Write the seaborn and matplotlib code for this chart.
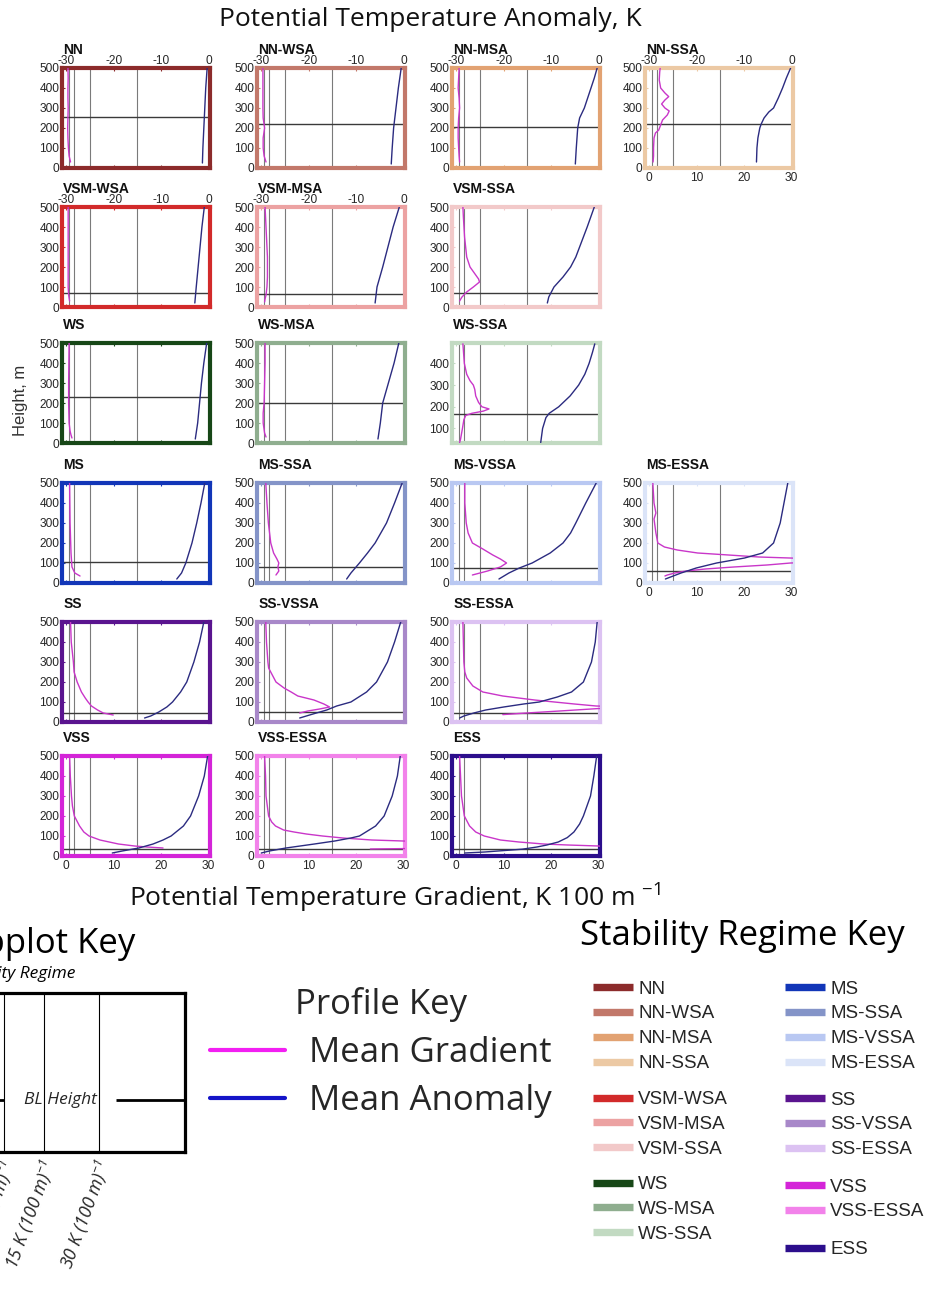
import matplotlib
matplotlib.use("Agg")
import matplotlib.pyplot as plt
from matplotlib.lines import Line2D
import seaborn as sns

# ---------------------------------------------------------------- regimes
REGIMES = ["NN", "NN-WSA", "NN-MSA", "NN-SSA",
           "VSM-WSA", "VSM-MSA", "VSM-SSA",
           "WS", "WS-MSA", "WS-SSA",
           "MS", "MS-SSA", "MS-VSSA", "MS-ESSA",
           "SS", "SS-VSSA", "SS-ESSA",
           "VSS", "VSS-ESSA", "ESS"]
REGIME_COLORS = ["#8c2b2b", "#c2786a", "#e2a272", "#ecc9a4",
                 "#d22a2a", "#eca2a2", "#f2c9c9",
                 "#174717", "#8fae8f", "#c2dac2",
                 "#1236b8", "#8494c8", "#b9c8f2", "#dbe4f8",
                 "#5a148f", "#a888c9", "#dcc2f2",
                 "#d424d8", "#f282ea", "#2c0e8c"]
PANEL_ROW = [0, 0, 0, 0, 1, 1, 1, 2, 2, 2, 3, 3, 3, 3, 4, 4, 4, 5, 5, 5]
PANEL_COL = [0, 1, 2, 3, 0, 1, 2, 0, 1, 2, 0, 1, 2, 3, 0, 1, 2, 0, 1, 2]
BL_HEIGHT = [255, 220, 205, 222, 70, 63, 70, 230, 198, 167,
             107, 80, 75, 58, 45, 50, 44, 37, 34, 34]
TOP_LABELED = ["NN", "NN-WSA", "NN-MSA", "NN-SSA", "VSM-WSA", "VSM-MSA"]
BOTTOM_LABELED = ["NN-SSA", "MS-ESSA", "VSS", "VSS-ESSA", "ESS"]

# reference gradient thresholds, K (100 m)^-1
GRAD_REF = [0.5, 1.7, 5.0, 15.0]
GRAD_TICKS = [0, 10, 20, 30]
ANOM_TICKS = [-30, -20, -10, 0]
HEIGHT_TICKS = [0, 100, 200, 300, 400, 500]

# ------------------------------------------- mean profiles (height in m)
NN_GZ = [30, 60, 100, 150, 200, 250, 300, 350, 400, 450, 500]
NN_GRAD = [0.9, 0.6, 0.45, 0.35, 0.3, 0.35, 0.4, 0.35, 0.35, 0.4, 0.35]
NN_AZ = [25, 100, 200, 300, 400, 500]
NN_ANOM = [-1.3, -1.2, -1.0, -0.8, -0.6, -0.3]

NNW_GZ = [30, 60, 100, 150, 200, 250, 300, 400, 500]
NNW_GRAD = [1.0, 0.6, 0.4, 0.4, 0.7, 0.4, 0.35, 0.35, 0.35]
NNW_AZ = [20, 100, 200, 300, 400, 500]
NNW_ANOM = [-2.6, -2.4, -2.1, -1.6, -1.1, -0.5]

NNM_GZ = [30, 60, 100, 150, 200, 250, 300, 350, 400, 450, 500]
NNM_GRAD = [0.7, 0.6, 0.5, 0.4, 0.4, 0.5, 0.7, 0.6, 0.4, 0.5, 0.6]
NNM_AZ = [20, 100, 200, 250, 300, 350, 400, 450, 500]
NNM_ANOM = [-4.9, -4.7, -4.4, -4.0, -3.0, -2.3, -1.6, -0.9, -0.3]

NNS_GZ = [30, 60, 100, 150, 175, 190, 215, 240, 265, 285, 300, 320, 340,
          357, 375, 400, 440, 480, 500]
NNS_GRAD = [0.8, 0.9, 0.9, 1.0, 1.3, 2.0, 2.4, 2.8, 3.8, 4.2, 3.3, 2.6,
            3.3, 4.1, 3.3, 2.4, 2.1, 2.2, 2.3]
NNS_AZ = [30, 100, 150, 200, 220, 250, 280, 300, 350, 400, 450, 500]
NNS_ANOM = [-7.4, -7.3, -7.1, -6.7, -6.4, -5.8, -4.8, -3.8, -2.8, -1.9, -1.1, -0.2]

VW_GZ = [30, 60, 100, 200, 300, 400, 500]
VW_GRAD = [0.7, 0.5, 0.4, 0.4, 0.4, 0.4, 0.4]
VW_AZ = [20, 100, 200, 300, 400, 500]
VW_ANOM = [-2.9, -2.6, -2.2, -1.8, -1.4, -0.9]

VM_GZ = [25, 40, 60, 100, 150, 200, 250, 300, 400, 500]
VM_GRAD = [0.7, 0.8, 1.0, 1.2, 1.3, 1.3, 1.3, 1.2, 1.0, 0.8]
VM_AZ = [20, 100, 200, 300, 400, 500]
VM_ANOM = [-6.0, -5.6, -4.4, -3.3, -2.2, -0.9]

VS_GZ = [30, 50, 75, 100, 125, 140, 170, 200, 250, 350, 450, 500]
VS_GRAD = [0.7, 1.2, 2.2, 3.6, 4.9, 4.7, 3.8, 2.9, 2.2, 1.75, 1.5, 1.4]
VS_AZ = [20, 50, 100, 150, 200, 250, 300, 400, 500]
VS_ANOM = [-10.8, -10.5, -9.4, -7.5, -5.9, -4.8, -4.0, -2.4, -0.9]

WS_GZ = [25, 40, 60, 100, 200, 300, 400, 500]
WS_GRAD = [1.2, 1.0, 0.8, 0.6, 0.5, 0.5, 0.55, 0.6]
WS_AZ = [20, 100, 200, 300, 400, 500]
WS_ANOM = [-2.8, -2.3, -1.9, -1.5, -1.0, -0.4]

WSM_GZ = [30, 50, 100, 150, 200, 300, 400, 500]
WSM_GRAD = [1.0, 0.7, 0.4, 0.4, 0.6, 0.7, 0.8, 0.8]
WSM_AZ = [20, 100, 200, 250, 300, 400, 500]
WSM_ANOM = [-5.4, -4.9, -4.4, -3.8, -3.2, -2.0, -1.0]

WSS_GZ = [35, 50, 100, 140, 160, 170, 180, 190, 200, 220, 250, 280, 300,
          320, 350, 400, 490]
WSS_GRAD = [0.7, 0.9, 1.3, 1.6, 2.0, 3.3, 5.7, 6.9, 5.4, 4.7, 4.1, 3.9,
            3.6, 2.9, 2.2, 1.7, 1.4]
WSS_AZ = [35, 100, 150, 170, 200, 250, 300, 350, 400, 450, 490]
WSS_ANOM = [-12.2, -11.8, -11.1, -10.4, -8.4, -6.0, -4.2, -2.9, -2.0, -1.3, -0.8]

MS_GZ = [35, 50, 80, 150, 300, 500]
MS_GRAD = [2.9, 1.8, 1.2, 1.0, 0.8, 0.7]
MS_AZ = [20, 50, 100, 200, 300, 400, 500]
MS_ANOM = [-6.7, -5.7, -4.8, -3.5, -2.5, -1.6, -0.8]

MSS_GZ = [40, 60, 80, 100, 120, 150, 200, 300, 400, 500]
MSS_GRAD = [3.1, 3.7, 3.5, 3.7, 3.3, 2.6, 2.0, 1.5, 1.2, 0.95]
MSS_AZ = [20, 50, 100, 150, 200, 300, 400, 500]
MSS_ANOM = [-12.0, -11.1, -9.3, -7.6, -6.0, -3.6, -1.9, -0.3]

MSV_GZ = [40, 60, 80, 100, 120, 140, 170, 200, 250, 300, 400, 500]
MSV_GRAD = [3.4, 6.6, 9.3, 10.6, 9.3, 7.7, 5.6, 3.4, 2.5, 2.1, 1.8, 1.8]
MSV_AZ = [20, 50, 75, 100, 150, 200, 250, 300, 400, 500]
MSV_ANOM = [-21.0, -18.9, -16.7, -14.0, -10.2, -7.5, -5.9, -4.8, -2.7, -0.5]

MSE_GZ = [35, 40, 50, 60, 70, 80, 90, 100, 112, 125, 130, 140, 150, 165,
          180, 200, 250, 320, 350, 400, 500]
MSE_GRAD = [3.3, 3.8, 5.4, 7.8, 11.8, 17.8, 24.8, 29.8, 45.0, 29.6, 23.1,
            16.7, 10.2, 5.9, 3.2, 1.8, 1.4, 1.0, 1.4, 1.0, 0.75]
MSE_AZ = [20, 30, 50, 75, 100, 125, 150, 200, 300, 400, 500]
MSE_ANOM = [-26.6, -25.5, -23.3, -20.1, -15.8, -9.9, -6.1, -3.8, -2.4, -1.6, -0.8]

SS_GZ = [35, 45, 60, 80, 100, 120, 150, 200, 250, 300, 400, 500]
SS_GRAD = [9.9, 7.8, 6.6, 5.3, 4.6, 4.0, 3.2, 2.3, 1.65, 1.5, 1.05, 0.9]
SS_AZ = [20, 30, 50, 75, 100, 150, 200, 300, 400, 500]
SS_ANOM = [-13.5, -12.2, -10.5, -8.8, -7.6, -5.9, -4.6, -3.1, -1.9, -1.0]

SSV_GZ = [45, 55, 65, 75, 90, 110, 130, 150, 170, 200, 270, 300, 400, 500]
SSV_GRAD = [8.1, 9.8, 12.3, 14.4, 13.2, 11.1, 7.7, 6.3, 4.8, 3.1, 1.55,
            1.4, 1.1, 0.95]
SSV_AZ = [20, 40, 60, 80, 100, 150, 200, 300, 400, 500]
SSV_ANOM = [-21.9, -19.1, -16.2, -14.1, -11.1, -7.8, -5.7, -3.4, -1.9, -0.6]

SSE_GZ = [37, 45, 55, 67, 73, 80, 90, 100, 110, 130, 150, 180, 220, 250,
          300, 400, 500]
SSE_GRAD = [9.8, 14.8, 21.8, 29.8, 40.0, 29.5, 24.9, 20.7, 16.5, 9.8, 5.6,
            3.5, 2.2, 1.8, 1.6, 1.5, 1.4]
SSE_AZ = [20, 30, 45, 60, 75, 90, 100, 125, 150, 200, 300, 400, 500]
SSE_ANOM = [-29.3, -28.4, -26.3, -23.8, -20.0, -15.8, -12.5, -8.7, -5.7,
            -3.2, -1.5, -0.7, -0.3]

VSS_GZ = [40, 45, 50, 60, 80, 100, 120, 150, 200, 250, 300, 400, 500]
VSS_GRAD = [20.4, 17.0, 14.4, 11.0, 7.1, 4.8, 3.7, 2.8, 1.7, 1.3, 1.1, 0.85, 0.7]
VSS_AZ = [15, 25, 40, 60, 80, 100, 150, 200, 300, 400, 500]
VSS_ANOM = [-20.3, -18.2, -14.7, -11.7, -9.6, -7.9, -5.3, -3.8, -2.1, -0.9, -0.2]

VSE_GZ = [35, 37, 40, 60, 75, 80, 90, 100, 110, 120, 130, 150, 170, 200,
          300, 400, 500]
VSE_GRAD = [23.0, 30.0, 40.0, 45.0, 29.9, 23.3, 17.2, 12.9, 9.5, 6.9, 4.7,
            3.0, 2.2, 1.55, 1.0, 0.9, 0.7]
VSE_AZ = [15, 25, 40, 60, 75, 90, 100, 150, 200, 300, 400, 500]
VSE_ANOM = [-30.0, -28.3, -24.8, -18.8, -14.5, -11.1, -9.3, -5.9, -4.1,
            -2.4, -1.3, -0.7]

ESS_GZ = [45, 50, 55, 60, 70, 80, 100, 120, 150, 200, 300, 400, 500]
ESS_GRAD = [32.0, 30.0, 23.5, 18.4, 13.2, 9.3, 5.9, 4.1, 2.8, 1.7, 1.1, 0.9, 0.7]
ESS_AZ = [15, 20, 34, 45, 55, 70, 92, 120, 160, 200, 300, 400, 500]
ESS_ANOM = [-28.2, -24.0, -16.1, -13.0, -10.9, -8.5, -6.6, -5.2, -4.0,
            -3.2, -1.7, -1.0, -0.4]

GRAD_Z = [NN_GZ, NNW_GZ, NNM_GZ, NNS_GZ, VW_GZ, VM_GZ, VS_GZ, WS_GZ, WSM_GZ,
          WSS_GZ, MS_GZ, MSS_GZ, MSV_GZ, MSE_GZ, SS_GZ, SSV_GZ, SSE_GZ,
          VSS_GZ, VSE_GZ, ESS_GZ]
GRAD = [NN_GRAD, NNW_GRAD, NNM_GRAD, NNS_GRAD, VW_GRAD, VM_GRAD, VS_GRAD,
        WS_GRAD, WSM_GRAD, WSS_GRAD, MS_GRAD, MSS_GRAD, MSV_GRAD, MSE_GRAD,
        SS_GRAD, SSV_GRAD, SSE_GRAD, VSS_GRAD, VSE_GRAD, ESS_GRAD]
ANOM_Z = [NN_AZ, NNW_AZ, NNM_AZ, NNS_AZ, VW_AZ, VM_AZ, VS_AZ, WS_AZ, WSM_AZ,
          WSS_AZ, MS_AZ, MSS_AZ, MSV_AZ, MSE_AZ, SS_AZ, SSV_AZ, SSE_AZ,
          VSS_AZ, VSE_AZ, ESS_AZ]
ANOM = [NN_ANOM, NNW_ANOM, NNM_ANOM, NNS_ANOM, VW_ANOM, VM_ANOM, VS_ANOM,
        WS_ANOM, WSM_ANOM, WSS_ANOM, MS_ANOM, MSS_ANOM, MSV_ANOM, MSE_ANOM,
        SS_ANOM, SSV_ANOM, SSE_ANOM, VSS_ANOM, VSE_ANOM, ESS_ANOM]

# legend layout: groups of regimes per key column
KEY_COL1 = [["NN", "NN-WSA", "NN-MSA", "NN-SSA"],
            ["VSM-WSA", "VSM-MSA", "VSM-SSA"],
            ["WS", "WS-MSA", "WS-SSA"]]
KEY_COL2 = [["MS", "MS-SSA", "MS-VSSA", "MS-ESSA"],
            ["SS", "SS-VSSA", "SS-ESSA"],
            ["VSS", "VSS-ESSA"],
            ["ESS"]]

# ------------------------------------------------------------- styling
sns.set_style("white")
plt.rcParams["font.family"] = ["Liberation Sans", "DejaVu Sans"]
plt.rcParams["axes.unicode_minus"] = False
plt.rcParams["mathtext.default"] = "regular"

GRAD_COLOR = "#c936c9"
ANOM_COLOR = "#2b2b80"
KEY_FONT = ["Open Sans", "DejaVu Sans"]

W, H = 925, 1291
fig = plt.figure(figsize=(W / 100, H / 100), dpi=100)
fig.patch.set_facecolor("white")


def fx(px):
    return px / W


def fy(py):
    return 1 - py / H


COL_LEFT = [62, 257, 452, 645]
ROW_TOP = [68, 207, 343, 483, 622, 756]
AX_W, AX_H = 148, 100
GRAD_LIM = (-0.9, 30.3)

for i, name in enumerate(REGIMES):
    left = COL_LEFT[PANEL_COL[i]]
    top = ROW_TOP[PANEL_ROW[i]]
    ax = fig.add_axes([fx(left), fy(top + AX_H), AX_W / W, AX_H / H])
    color = REGIME_COLORS[i]

    for g in GRAD_REF:
        ax.axvline(g, color="#7a7a7a", lw=0.8, zorder=1)
    sns.lineplot(x=GRAD[i], y=GRAD_Z[i], orient="y", estimator=None,
                 color=GRAD_COLOR, lw=1.0, ax=ax, zorder=3)
    ax.axhline(BL_HEIGHT[i], color="#3a3a3a", lw=1.0, zorder=2)

    ax2 = ax.twiny()
    sns.lineplot(x=ANOM[i], y=ANOM_Z[i], orient="y", estimator=None,
                 color=ANOM_COLOR, lw=1.0, ax=ax2, zorder=3)

    ax.set_xlim(*GRAD_LIM)
    ax2.set_xlim(GRAD_LIM[0] - 30, GRAD_LIM[1] - 30)
    if name == "WS-SSA":
        ax.set_ylim(33, 494)
        ax.set_yticks([100, 200, 300, 400])
    else:
        ax.set_ylim(0, 500)
        ax.set_yticks(HEIGHT_TICKS)
    ax.set_xticks(GRAD_TICKS)
    ax2.set_xticks(ANOM_TICKS)
    ax.set_xlabel("")
    ax.set_ylabel("")
    ax2.set_xlabel("")
    ax2.set_ylabel("")

    for sp in ax.spines.values():
        sp.set_visible(True)
        sp.set_color(color)
        sp.set_linewidth(3.0)
    for sp in ax2.spines.values():
        sp.set_visible(False)

    ax.tick_params(axis="y", left=True, direction="in", length=2.5,
                   color=color, labelsize=8.6, labelcolor="#262626", pad=2)
    ax.tick_params(axis="x", bottom=True, direction="in", length=2.5,
                   color=color, labelsize=8.6, labelcolor="#262626", pad=3,
                   labelbottom=name in BOTTOM_LABELED)
    ax2.tick_params(axis="x", top=True, direction="in", length=2.5,
                    color=color, labelsize=8.6, labelcolor="#262626", pad=1,
                    labeltop=name in TOP_LABELED)

    ax.annotate(name, xy=(0, 1), xycoords="axes fraction", xytext=(1, 10),
                textcoords="offset points", ha="left", va="baseline",
                fontsize=10, fontweight="bold", color="#111111")

# ------------------------------------------------------------- axis titles
fig.text(fx(430), fy(19), "Potential Temperature Anomaly, K", ha="center",
         va="center", fontsize=19, family=KEY_FONT, color="#111111")
fig.text(fx(395), fy(898), "Potential Temperature Gradient, K 100 m $^{-1}$",
         ha="center", va="center", fontsize=19, family=KEY_FONT, color="#111111")
fig.text(fx(20), fy(400), "Height, m", rotation=90, ha="center", va="center",
         fontsize=12, color="#333333")

# ------------------------------------------------------------- subplot key
fig.text(fx(135), fy(953), "Subplot Key", ha="right", va="baseline",
         fontsize=25, family=KEY_FONT, color="black")
fig.text(fx(75), fy(978), "Stability Regime", ha="right", va="baseline",
         fontsize=12.5, style="italic", family=KEY_FONT, color="black")

kx0, kx1, ky0, ky1 = -150, 185, 993, 1152
kax = fig.add_axes([fx(kx0), fy(ky1), (kx1 - kx0) / W, (ky1 - ky0) / H])
kax.set_xlim(kx0, kx1)
kax.set_ylim(0, ky1 - ky0)
kax.set_xticks([])
kax.set_yticks([])
for sp in kax.spines.values():
    sp.set_visible(True)
    sp.set_color("black")
    sp.set_linewidth(2.3)
KEY_LINES = [4, 44, 99]
KEY_LABELS = ["5 K (100 m)$^{-1}$", "15 K (100 m)$^{-1}$", "30 K (100 m)$^{-1}$"]
kax.vlines(KEY_LINES, 0, ky1 - ky0, color="black", lw=0.8)
kbl = ky1 - 1100
kax.hlines([kbl, kbl], [kx0, 116], [4, kx1], color="black", lw=2.0)
kax.text(60, kbl, "BL Height", ha="center", va="center", fontsize=12.5,
         style="italic", family=KEY_FONT)
for xline, lab in zip(KEY_LINES, KEY_LABELS):
    fig.text(fx(xline + 6), fy(1161), lab, rotation=70, rotation_mode="anchor",
             ha="right", va="center", fontsize=13, style="italic",
             family=KEY_FONT)

# ------------------------------------------------------------- profile key
prof_handles = [Line2D([], [], color="#f21ff2", lw=3.0),
                Line2D([], [], color="#1414c8", lw=3.0)]
fig.legend(prof_handles, ["Mean Gradient", "Mean Anomaly"],
           title="Profile Key", loc="upper left",
           bbox_to_anchor=(fx(210), fy(987)), frameon=False,
           prop={"family": KEY_FONT, "size": 25},
           title_fontproperties={"family": KEY_FONT, "size": 25},
           handlelength=2.15, handletextpad=0.7, labelspacing=0.4,
           borderpad=0, borderaxespad=0, alignment="center")

# ----------------------------------------------------- stability regime key
fig.text(fx(580), fy(945), "Stability Regime Key", ha="left", va="baseline",
         fontsize=25, family=KEY_FONT, color="black")

KEY_TOPS_COL1 = [980.5, 1091, 1176]
KEY_TOPS_COL2 = [980.5, 1091.5, 1178.5, 1241]
for groups, tops, x0 in [(KEY_COL1, KEY_TOPS_COL1, 593),
                         (KEY_COL2, KEY_TOPS_COL2, 785)]:
    for group, ytop in zip(groups, tops):
        handles = [Line2D([], [], color=REGIME_COLORS[REGIMES.index(r)],
                          lw=5.3, solid_capstyle="butt") for r in group]
        fig.legend(handles, group, loc="upper left",
                   bbox_to_anchor=(fx(x0), fy(ytop)), frameon=False,
                   prop={"family": ["Liberation Sans"], "size": 13.5},
                   handlelength=2.15, handletextpad=0.25, labelspacing=0.41,
                   borderpad=0, borderaxespad=0)

fig.savefig("out.png", dpi=100, facecolor="white")
